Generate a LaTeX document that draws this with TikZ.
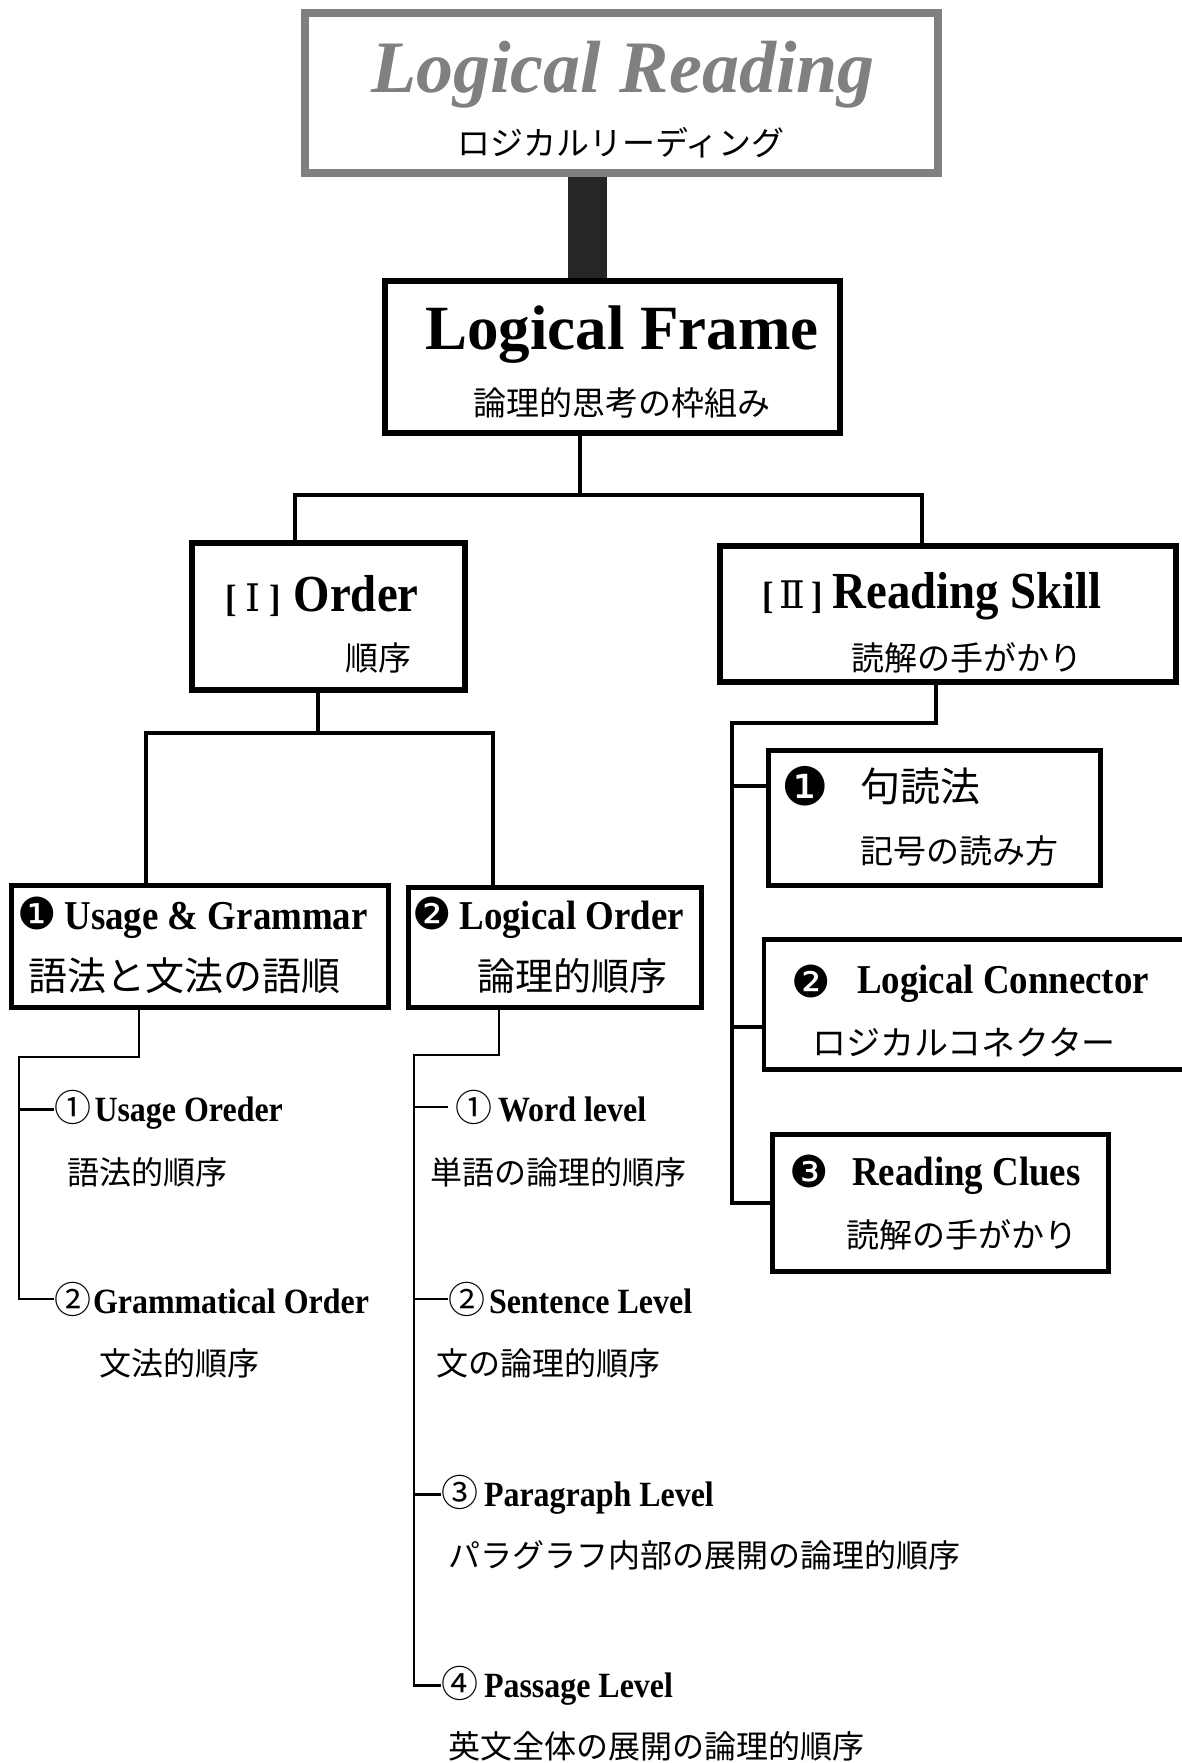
\documentclass[tikz,border=0pt]{standalone}
\usepackage{fontspec}
\usetikzlibrary{calc}
\setmainfont{Liberation Serif}
\newfontfamily\cond[FakeStretch=0.9]{Liberation Serif}
\newfontfamily\jp{Noto Sans CJK JP}
\newfontfamily\djv{DejaVu Sans}
\newfontfamily\djs{DejaVu Serif}
\newcommand{\fs}[1]{\fontsize{#1}{#1}\selectfont}
\definecolor{titlegray}{gray}{0.5}
\begin{document}
\begin{tikzpicture}[x=1pt,y=-1pt,
  box/.style={draw, rectangle, line width=5pt, inner sep=0pt, outer sep=0pt},
  lbl/.style={inner sep=0pt, outer sep=0pt, anchor=base west},
  jlbl/.style={inner sep=0pt, outer sep=0pt, anchor=west},
  mainline/.style={line width=4pt},
  subline/.style={line width=2.5pt},
]
\useasboundingbox (0,0) rectangle (1182,1763);
\fill[white] (0,0) rectangle (1182,1763);

% ---------- title ----------
\node[box, draw=titlegray, line width=8pt, minimum width=633pt, minimum height=160pt] (title) at (621.5,93) {};
\node[lbl, anchor=base, text=titlegray, font=\fs{74}\bfseries\itshape] (tl) at (623,93) {Logical Reading};
\node[jlbl, anchor=center, font=\jp\fs{33}] (tk) at (621,143) {ロジカルリーディング};

% ---------- logical frame ----------
\node[box, line width=6pt, minimum width=455pt, minimum height=152pt] (frame) at (612.5,357) {};
\node[lbl, anchor=base, font=\fs{63}\bfseries] (ft) at (622,349) {Logical Frame};
\node[jlbl, anchor=center, font=\jp\fs{33}] (fj) at (622,403) {論理的思考の枠組み};

\coordinate (bar) at (587.5,0);
\draw[line width=39pt, black!85] ($(title.south -| bar)+(0,4)$) -- ($(frame.north -| bar)+(0,-3)$);

% ---------- level I / II ----------
\node[box, line width=6pt, minimum width=273pt, minimum height=147pt] (order) at (328.5,616.5) {};
\node[lbl, font=\cond\fs{52}\bfseries] (ot) at (225,611) {{\fs{38}[\hspace{9pt}{\djs\mdseries Ⅰ}\hspace{9pt}]}\hspace{13pt}Order};
\node[jlbl, font=\jp\fs{33}] (oj) at (345,658) {順序};

\node[box, line width=6pt, minimum width=456pt, minimum height=136pt] (skill) at (948,614) {};
\node[lbl, font=\cond\fs{52}\bfseries] (st) at (762,608) {{\fs{38}[\hspace{6pt}{\djs\mdseries Ⅱ}\hspace{6pt}]}\hspace{10pt}Reading Skill};
\node[jlbl, font=\jp\fs{33}] (sj) at (851,658) {読解の手がかり};

\coordinate (fa) at (580,495);
\coordinate (fb) at (295,495);
\coordinate (fc) at (922,495);
\draw[mainline] (frame.south -| fa) -- (fa);
\draw[mainline] (order.north -| fb) -- (fb) -- (fc) -- (skill.north -| fc);

% ---------- order children ----------
\node[box, line width=4.5pt, minimum width=377pt, minimum height=122pt] (usage) at (200,946.5) {};
\node[lbl, font=\cond\fs{41}\bfseries] (ut) at (17,929) {{\djv\mdseries\fs{44}❶}\hspace{8pt}Usage \& Grammar};
\node[jlbl, font=\jp\fs{39}] (uj) at (28,976) {語法と文法の語順};

\node[box, line width=4.5pt, minimum width=293pt, minimum height=120pt] (logord) at (555,947.5) {};
\node[lbl, font=\cond\fs{41}\bfseries] (lt) at (412,929) {{\djv\mdseries\fs{44}❷}\hspace{8pt}Logical Order};
\node[jlbl, font=\jp\fs{38}] (lj) at (477,976) {論理的順序};

\coordinate (oa) at (318,733);
\coordinate (ob) at (146,733);
\coordinate (oc) at (493,733);
\draw[mainline] (order.south -| oa) -- (oa);
\draw[mainline] (usage.north -| ob) -- (ob) -- (oc) -- (logord.north -| oc);

% ---------- usage items ----------
\node[lbl, font=\cond\fs{35.5}\bfseries] (u1) at (54,1121) {{\jp\mdseries\fs{37}①}\hspace{3.5pt}Usage Oreder};
\node[jlbl, font=\jp\fs{32}] (u1j) at (67,1172) {語法的順序};
\node[lbl, font=\cond\fs{35.5}\bfseries] (u2) at (54,1313) {{\jp\mdseries\fs{37}②}\hspace{2pt}Grammatical Order};
\node[jlbl, font=\jp\fs{32}] (u2j) at (99,1363) {文法的順序};

\coordinate (ua) at (139,1057);
\coordinate (ub) at (19,1057);
\draw[subline] (usage.south -| ua) -- (ua) -- (ub) |- (u2.west);
\draw[subline] (u1.west -| ub) -- (u1.west);

% ---------- logical order items ----------
\node[lbl, font=\cond\fs{35.5}\bfseries] (w1) at (455,1121) {{\jp\mdseries\fs{37}①}\hspace{6pt}Word level};
\node[jlbl, font=\jp\fs{32}] (w1j) at (430,1172) {単語の論理的順序};
\node[lbl, font=\cond\fs{35.5}\bfseries] (w2) at (448,1313) {{\jp\mdseries\fs{37}②}\hspace{4pt}Sentence Level};
\node[jlbl, font=\jp\fs{32}] (w2j) at (436,1363) {文の論理的順序};
\node[lbl, font=\cond\fs{35.5}\bfseries] (w3) at (441,1506) {{\jp\mdseries\fs{37}③}\hspace{6pt}Paragraph Level};
\node[jlbl, font=\jp\fs{32}] (w3j) at (448,1555) {パラグラフ内部の展開の論理的順序};
\node[lbl, font=\cond\fs{35.5}\bfseries] (w4) at (441,1697) {{\jp\mdseries\fs{37}④}\hspace{6pt}Passage Level};
\node[jlbl, font=\jp\fs{32}] (w4j) at (448,1746) {英文全体の展開の論理的順序};

\coordinate (la) at (499,1055);
\coordinate (lb) at (414,1055);
\draw[subline] (logord.south -| la) -- (la) -- (lb) |- (w4.west);
\draw[subline] (w1.west -| lb) -- ([xshift=-7pt]w1.west);
\draw[subline] (w2.west -| lb) -- (w2.west);
\draw[subline] (w3.west -| lb) -- (w3.west);

% ---------- reading skill items ----------
\node[box, line width=4.5pt, minimum width=332pt, minimum height=135pt] (kutou) at (934.5,818) {};
\node[jlbl, font=\djv\fs{53}] (kn) at (781,786) {❶};
\node[jlbl, font=\jp\fs{40}] (kt) at (860,786) {句読法};
\node[jlbl, font=\jp\fs{33}] (kj) at (860,851) {記号の読み方};

\node[box, line width=4.5pt, minimum width=424pt, minimum height=130pt] (conn) at (976,1004.5) {};
\node[jlbl, font=\djv\fs{44}] (cn) at (791,981) {❷};
\node[lbl, font=\cond\fs{41}\bfseries] (ct) at (857,993) {Logical Connector};
\node[jlbl, font=\jp\fs{34}] (cj) at (812,1042) {ロジカルコネクター};

\node[box, line width=4.5pt, minimum width=336pt, minimum height=137pt] (clues) at (940.5,1203) {};
\node[jlbl, font=\djv\fs{44}] (rn) at (789,1171) {❸};
\node[lbl, font=\cond\fs{41}\bfseries] (rt) at (852,1185) {Reading Clues};
\node[jlbl, font=\jp\fs{33}] (rj) at (846,1235) {読解の手がかり};

\coordinate (sa) at (936,723);
\coordinate (sb) at (732,723);
\draw[mainline] (skill.south -| sa) -- (sa) -- (sb) |- (clues.west);
\draw[mainline] (sb |- kn.west) -- (kutou.west |- kn.west);
\draw[mainline] (sb |- cj.north) -- (conn.west |- cj.north);
\end{tikzpicture}
\end{document}
